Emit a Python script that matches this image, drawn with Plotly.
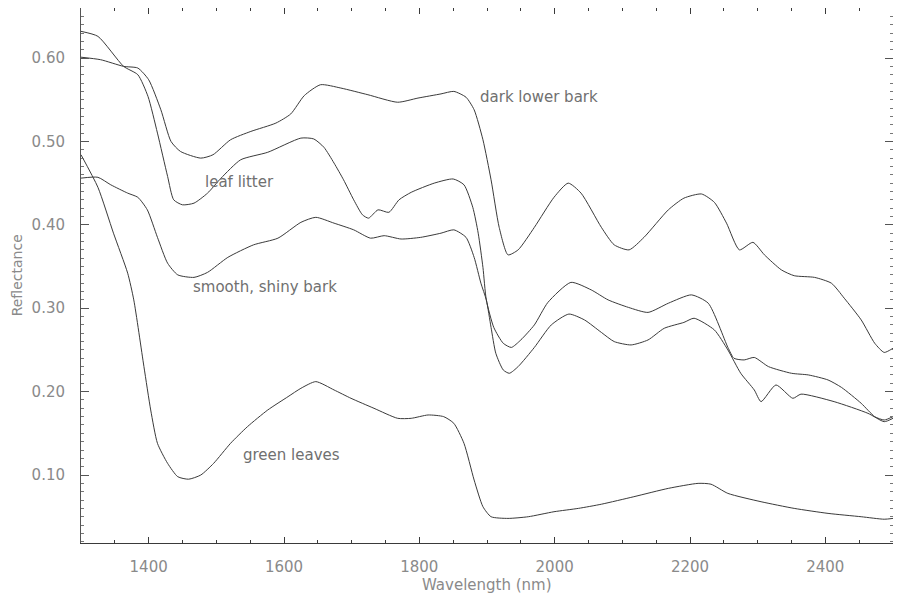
import plotly.graph_objects as go

# ---- data ----
dark_wl = [1300,1329,1363,1384,1400,1418,1433,1447,1477,1495,1521,1551,1588,1610,1630,1654,1684,1724,1768,1798,
           1832,1851,1869,1881,1894,1906,1918,1931,1946,1970,1999,2020,2039,2069,2088,2110,2132,2168,2191,2217,
           2236,2254,2273,2293,2310,2335,2354,2384,2409,2428,2453,2473,2487,2500]
dark_r = [0.601,0.598,0.590,0.588,0.574,0.538,0.500,0.488,0.480,0.484,0.502,0.512,0.522,0.533,0.555,0.568,0.564,0.556,0.547,0.552,
          0.557,0.560,0.553,0.538,0.502,0.454,0.397,0.364,0.370,0.397,0.433,0.450,0.438,0.397,0.376,0.370,0.385,0.418,0.432,0.437,
          0.427,0.402,0.370,0.379,0.364,0.346,0.339,0.337,0.330,0.312,0.286,0.258,0.247,0.252]

litter_wl = [1300,1325,1363,1384,1399,1413,1428,1437,1450,1467,1487,1507,1536,1576,1625,1644,1659,1674,1688,1703,
             1716,1725,1739,1755,1770,1788,1822,1850,1866,1879,1887,1894,1899,1910,1924,1936,1950,1970,1990,2024,
             2054,2079,2109,2138,2168,2202,2227,2256,2265,2280,2295,2316,2350,2375,2404,2424,2453,2473,2487,2500]
litter_r = [0.632,0.626,0.590,0.580,0.554,0.510,0.458,0.430,0.424,0.426,0.438,0.456,0.478,0.487,0.504,0.503,0.493,0.474,0.454,0.430,
            0.412,0.408,0.418,0.415,0.430,0.439,0.450,0.455,0.448,0.421,0.390,0.349,0.310,0.277,0.258,0.253,0.262,0.280,0.307,0.331,
            0.322,0.310,0.301,0.295,0.306,0.316,0.306,0.253,0.240,0.238,0.241,0.230,0.222,0.220,0.214,0.205,0.186,0.170,0.166,0.170]

smooth_wl = [1300,1325,1344,1369,1384,1398,1413,1428,1443,1467,1487,1517,1555,1591,1625,1647,1674,1703,1728,1748,
             1773,1802,1832,1851,1869,1881,1891,1899,1906,1913,1924,1933,1946,1970,1995,2021,2044,2069,2088,2113,
             2138,2162,2191,2206,2236,2256,2275,2295,2305,2327,2352,2364,2413,2463,2487,2500]
smooth_r = [0.456,0.457,0.448,0.438,0.433,0.418,0.385,0.354,0.340,0.337,0.343,0.361,0.376,0.384,0.403,0.409,0.402,0.394,0.384,0.387,
            0.383,0.385,0.390,0.394,0.385,0.361,0.330,0.310,0.277,0.246,0.226,0.222,0.230,0.253,0.280,0.293,0.286,0.271,0.260,0.256,
            0.262,0.276,0.283,0.288,0.274,0.250,0.222,0.202,0.188,0.208,0.192,0.197,0.188,0.174,0.164,0.168]

green_wl = [1300,1325,1348,1369,1378,1393,1403,1413,1428,1443,1459,1477,1496,1521,1546,1576,1606,1625,1647,1674,
            1699,1733,1768,1788,1813,1836,1851,1866,1881,1894,1906,1931,1961,1999,2035,2069,2117,2168,2212,2231,
            2256,2305,2354,2404,2453,2487,2500]
green_r = [0.484,0.445,0.390,0.342,0.310,0.230,0.178,0.138,0.114,0.098,0.095,0.100,0.114,0.138,0.158,0.178,0.194,0.204,0.212,0.202,
           0.192,0.180,0.168,0.168,0.172,0.170,0.162,0.138,0.094,0.062,0.050,0.048,0.050,0.056,0.060,0.065,0.074,0.084,0.090,0.089,
           0.078,0.068,0.060,0.054,0.050,0.047,0.048]

series = [
    ("dark lower bark", dark_wl, dark_r),
    ("leaf litter", litter_wl, litter_r),
    ("smooth, shiny bark", smooth_wl, smooth_r),
    ("green leaves", green_wl, green_r),
]

# label anchor positions (wavelength, reflectance)
label_names = ["dark lower bark", "leaf litter", "smooth, shiny bark", "green leaves"]
label_x = [1887, 1481, 1462, 1536]
label_y = [0.553, 0.451, 0.325, 0.124]

x_ticks = [1400, 1600, 1800, 2000, 2200, 2400]
y_ticks = [0.10, 0.20, 0.30, 0.40, 0.50, 0.60]
y_ticktext = ["0.10", "0.20", "0.30", "0.40", "0.50", "0.60"]

FONT = "DejaVu Sans"
TXT = "#8a8a8a"
LINE = "#3a3a3a"

fig = go.Figure()
for name, wl, r in series:
    fig.add_trace(go.Scatter(x=wl, y=r, mode="lines", name=name,
                             line=dict(color=LINE, width=1, shape="spline", smoothing=0.6),
                             showlegend=False, hoverinfo="skip"))

for t, x, y in zip(label_names, label_x, label_y):
    fig.add_annotation(x=x, y=y, text=t, showarrow=False, xanchor="left", yanchor="middle",
                       font=dict(family=FONT, size=15, color="#707070"))

fig.add_annotation(xref="paper", yref="paper", x=0.5, y=-0.078, text="Wavelength (nm)",
                   showarrow=False, xanchor="center", yanchor="middle",
                   font=dict(family=FONT, size=15, color=TXT))
fig.add_annotation(xref="paper", yref="paper", x=-0.079, y=0.5, text="Reflectance", textangle=-90,
                   showarrow=False, xanchor="center", yanchor="middle",
                   font=dict(family=FONT, size=14, color=TXT))

fig.update_xaxes(range=[1300, 2500], tickvals=x_ticks, ticks="inside", ticklen=6, tickcolor=LINE,
                 showline=True, linecolor=LINE, linewidth=1, mirror="allticks", automargin=False,
                 showgrid=False, zeroline=False, ticklabelstandoff=10,
                 tickfont=dict(family=FONT, size=15, color=TXT),
                 minor=dict(dtick=50, ticks="inside", ticklen=3, tickcolor=LINE, showgrid=False))
fig.update_yaxes(range=[0.0185, 0.660], tickvals=y_ticks, ticktext=y_ticktext, ticks="inside", ticklen=8,
                 tickcolor="#555", showline=True, linecolor="#555", linewidth=1, mirror="allticks", automargin=False,
                 showgrid=False, zeroline=False, ticklabelstandoff=12,
                 tickfont=dict(family=FONT, size=15, color=TXT),
                 minor=dict(dtick=0.01, ticks="inside", ticklen=3, tickcolor="#777", showgrid=False))

# the page body adds an 8px offset; size the figure so the plot frame lands where the reference has it
fig.update_layout(width=893, height=592, margin=dict(l=73, r=8, t=0, b=57, autoexpand=False),
                  paper_bgcolor="white", plot_bgcolor="white", showlegend=False)

fig.write_html("out.html")
